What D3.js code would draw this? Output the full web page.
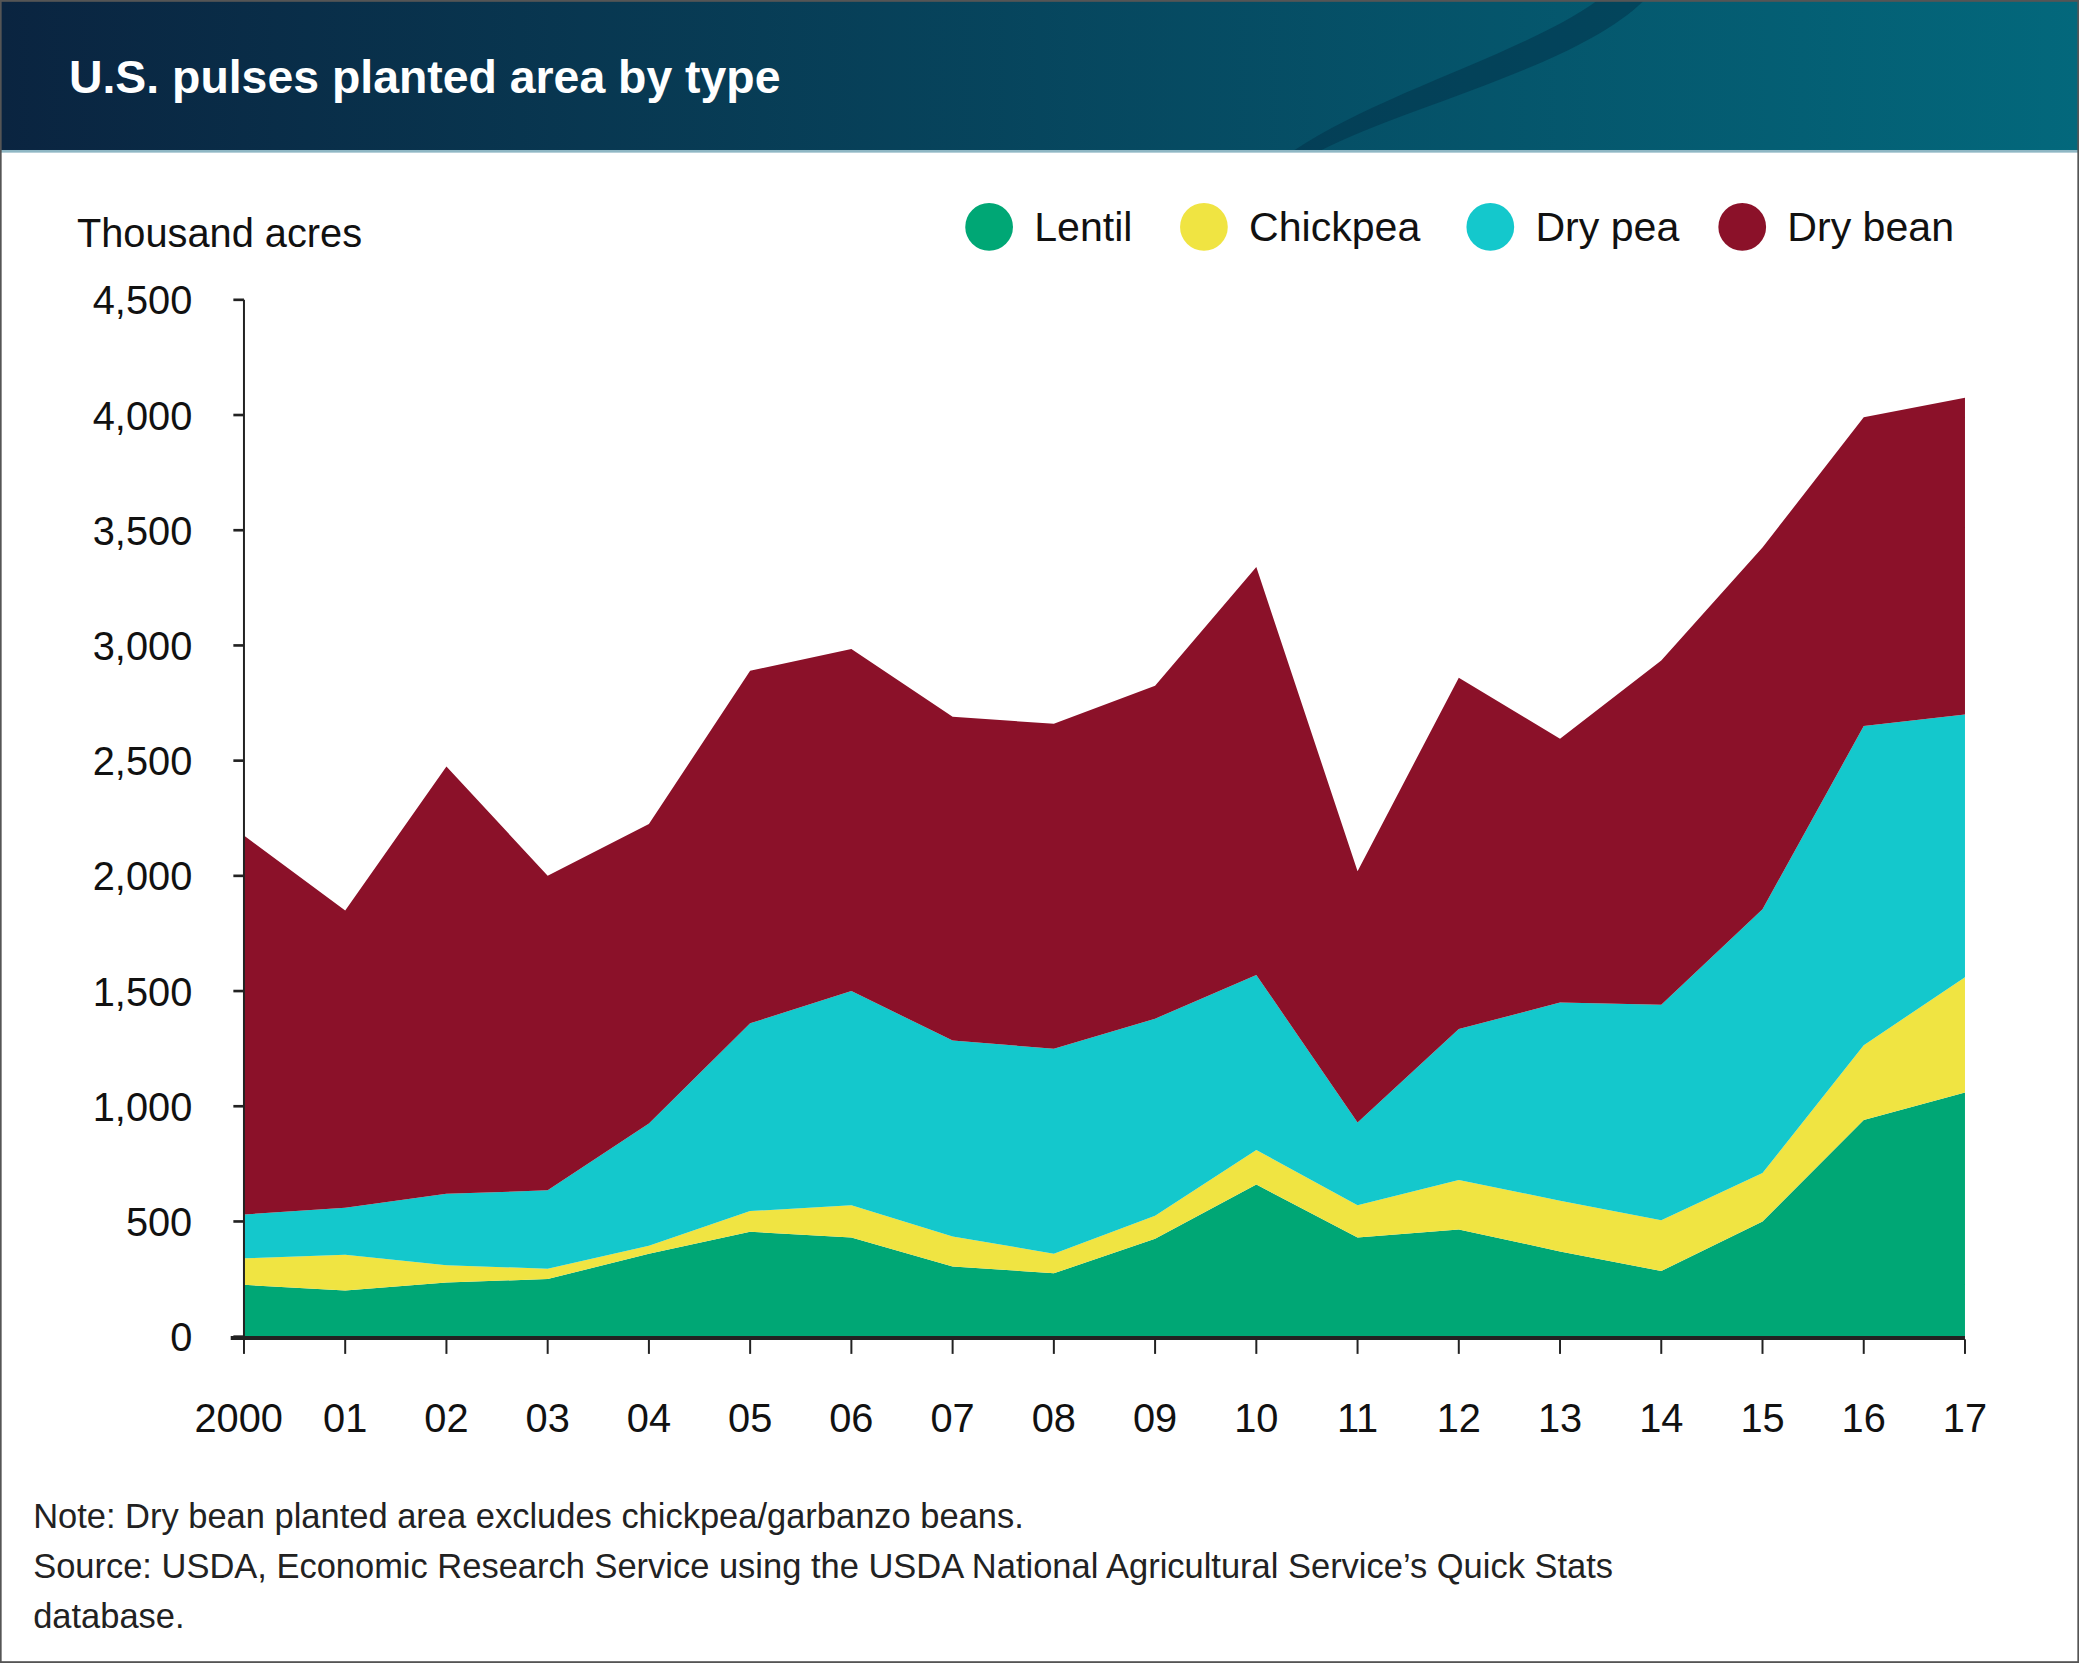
<!DOCTYPE html>
<html>
<head>
<style>
  body { margin:0; background:#fff; }
  text { font-family:"Liberation Sans",Arial,Helvetica,sans-serif; }
</style>
</head>
<body>
<div id="chart"></div>
<script src="https://cdnjs.cloudflare.com/ajax/libs/d3/7.8.5/d3.min.js"></script>
<script>
var years = [2000,2001,2002,2003,2004,2005,2006,2007,2008,2009,2010,2011,2012,2013,2014,2015,2016,2017];
var yearLabels = ["2000","01","02","03","04","05","06","07","08","09","10","11","12","13","14","15","16","17"];
var lentil   = [225,200,235,250,360,455,430,305,275,425,660,430,465,370,285,500,940,1060];
var chickpea = [115,155,75,45,35,90,140,130,85,100,150,140,215,220,220,210,325,500];
var dryPea   = [190,205,310,340,530,815,930,850,890,855,760,360,655,860,935,1145,1385,1140];
var dryBean  = [1645,1290,1855,1365,1300,1530,1485,1405,1410,1445,1770,1090,1525,1145,1495,1570,1340,1375];
var yTicks = [0,500,1000,1500,2000,2500,3000,3500,4000,4500];
var seriesNames = ["Lentil","Chickpea","Dry pea","Dry bean"];
var colors = ["#00a775","#f0e442","#14c8cc","#8b1129"];

var W = 1568, H = 1254;
var svg = d3.select("#chart").append("svg")
  .attr("width", 2079).attr("height", 1663)
  .attr("viewBox", "0 0 " + W + " " + H);

// header
var defs = svg.append("defs");
var grad = defs.append("linearGradient").attr("id","hdr");
grad.append("stop").attr("offset","0%").attr("stop-color","#0a2440");
grad.append("stop").attr("offset","100%").attr("stop-color","#03687c");
svg.append("rect").attr("width",W).attr("height",114).attr("fill","url(#hdr)");
svg.append("path").attr("d","M975,114 C1040,70 1150,40 1205,0 L1240,0 C1190,50 1060,80 995,114 Z")
  .attr("fill","#022c45").attr("opacity",0.45);
svg.append("rect").attr("y",113).attr("width",W).attr("height",2).attr("fill","#8fb7c4");
svg.append("text").attr("x",52).attr("y",70).attr("fill","#fff")
  .attr("font-size",35).attr("font-weight","bold").text("U.S. pulses planted area by type");

var x = d3.scaleLinear().domain([2000,2017]).range([184,1482]);
var y = d3.scaleLinear().domain([0,4500]).range([1008,226]);

var rows = years.map(function(yr,i){
  return {year:yr, "Lentil":lentil[i], "Chickpea":chickpea[i], "Dry pea":dryPea[i], "Dry bean":dryBean[i]};
});
var stack = d3.stack().keys(seriesNames)(rows);
var area = d3.area().x(function(d){return x(d.data.year);})
  .y0(function(d){return y(d[0]);}).y1(function(d){return y(d[1]);});

svg.selectAll("path.layer").data(stack).enter().append("path")
  .attr("class","layer").attr("d",area)
  .attr("fill",function(d,i){return colors[i];});

// y axis
svg.append("line").attr("x1",184).attr("x2",184).attr("y1",226).attr("y2",1008)
  .attr("stroke","#222").attr("stroke-width",1.5);
yTicks.forEach(function(t){
  svg.append("line").attr("x1",176).attr("x2",184).attr("y1",y(t)).attr("y2",y(t))
    .attr("stroke","#222").attr("stroke-width",2);
  svg.append("text").attr("x",145).attr("y",y(t)+11).attr("text-anchor","end")
    .attr("font-size",30).attr("fill","#111").text(d3.format(",")(t));
});
// x axis
svg.append("line").attr("x1",174).attr("x2",1482).attr("y1",1009).attr("y2",1009)
  .attr("stroke","#222").attr("stroke-width",3);
years.forEach(function(yr,i){
  svg.append("line").attr("x1",x(yr)).attr("x2",x(yr)).attr("y1",1010).attr("y2",1021)
    .attr("stroke","#222").attr("stroke-width",1.5);
  svg.append("text").attr("x",x(yr)-(i==0?4:0)).attr("y",1080).attr("text-anchor","middle")
    .attr("font-size",30).attr("fill","#111").text(yearLabels[i]);
});

svg.append("text").attr("x",58).attr("y",186).attr("font-size",30).attr("fill","#111").text("Thousand acres");

// legend
var legX = [746,908,1124,1314];
seriesNames.forEach(function(n,i){
  svg.append("circle").attr("cx",legX[i]).attr("cy",171).attr("r",18).attr("fill",colors[i]);
  svg.append("text").attr("x",legX[i]+34).attr("y",182).attr("font-size",31).attr("fill","#111").text(n);
});

// notes
var notes = ["Note: Dry bean planted area excludes chickpea/garbanzo beans.",
  "Source: USDA, Economic Research Service using the USDA National Agricultural Service\u2019s Quick Stats",
  "database."];
notes.forEach(function(t,i){
  svg.append("text").attr("x",25).attr("y",1152+i*38).attr("font-size",26).attr("fill","#222").text(t);
});

svg.append("rect").attr("x",0.5).attr("y",0.5).attr("width",W-1).attr("height",H-1)
  .attr("fill","none").attr("stroke","#555").attr("stroke-width",1.5);
</script>
</body>
</html>
